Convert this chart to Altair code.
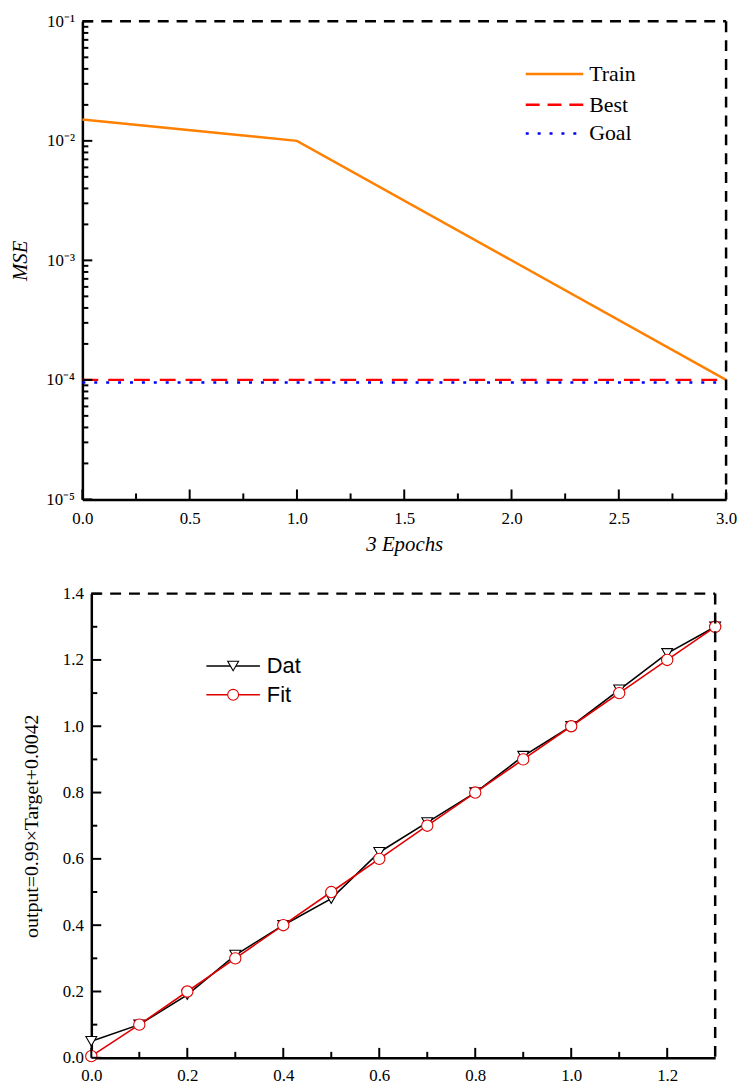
import math
import altair as alt
import pandas as pd

# ---------------- data: top panel (training performance) ----------------
epochs = [0, 1, 3]
train_mse = [0.0151, 0.0100, 0.0001]
ref_epochs = [0, 3]
best_mse = [1.0e-4, 1.0e-4]
goal_mse = [9.5e-5, 9.5e-5]
top_series = ["Train", "Best", "Goal"]
top_y_ticks = [1e-5, 1e-4, 1e-3, 1e-2, 1e-1]
top_y_tick_labels = ["10⁻⁵", "10⁻⁴", "10⁻³", "10⁻²", "10⁻¹"]
top_y_minor = [m * d for d in [1e-5, 1e-4, 1e-3, 1e-2] for m in range(2, 10)]
top_x_ticks = [0.0, 0.5, 1.0, 1.5, 2.0, 2.5, 3.0]
top_x_minor = [0.25, 0.75, 1.25, 1.75, 2.25, 2.75]

# ---------------- data: bottom panel (regression fit) ----------------
target = [0.0, 0.1, 0.2, 0.3, 0.4, 0.5, 0.6, 0.7, 0.8, 0.9, 1.0, 1.1, 1.2, 1.3]
dat = [0.05, 0.10, 0.19, 0.31, 0.40, 0.48, 0.62, 0.71, 0.80, 0.91, 1.00, 1.11, 1.22, 1.30]
fit = [0.005, 0.10, 0.20, 0.30, 0.40, 0.50, 0.60, 0.70, 0.80, 0.90, 1.00, 1.10, 1.20, 1.30]
bottom_series = ["Dat", "Fit"]
bot_x_ticks = [0.0, 0.2, 0.4, 0.6, 0.8, 1.0, 1.2]
bot_x_minor = [0.1, 0.3, 0.5, 0.7, 0.9, 1.1]
bot_y_ticks = [0.0, 0.2, 0.4, 0.6, 0.8, 1.0, 1.2, 1.4]
bot_y_minor = [0.1, 0.3, 0.5, 0.7, 0.9, 1.1, 1.3]

SERIF = "Liberation Serif"
SANS = "Liberation Sans"
TW, TH = 649, 482
BW, BH = 638, 468     # bottom view; its data area starts BX px to the right
BX = 9
MAJOR, MINOR = 10, 6


def axis(fmt=None, values=None, title="", font=SERIF, italic=False, label_expr=None,
         title_pad=8, label_pad=8, title_size=21, offset=0):
    kw = dict(values=values, title=title, ticks=False, tickSize=0, grid=False,
              domainColor="black", domainWidth=2.5, labelColor="black",
              labelFont=SERIF, labelFontSize=17, labelPadding=label_pad,
              titleFont=font, titleFontSize=title_size, titleFontWeight="normal",
              titleColor="black", titlePadding=title_pad, labelFlush=False,
              labelOverlap=False, offset=offset)
    if fmt:
        kw["format"] = fmt
    if italic:
        kw["titleFontStyle"] = "italic"
    if label_expr:
        kw["labelExpr"] = label_expr
    return alt.Axis(**kw)


def tick_layers(xf, yf, xs, ys, x_major, x_minor, y_major, y_minor, x_len, y_len):
    """Inward ticks drawn as rules; x_len / y_len turn a pixel length into an end value."""
    out = []
    for vals, ln in [(x_major, MAJOR), (x_minor, MINOR)]:
        df = pd.DataFrame({xf: vals, yf: [y_len(0)] * len(vals), "hi": [y_len(ln)] * len(vals)})
        out.append(alt.Chart(df).mark_rule(color="black", strokeWidth=2).encode(
            x=alt.X(f"{xf}:Q", scale=xs), y=alt.Y(f"{yf}:Q", scale=ys), y2="hi:Q"))
    for vals, ln in [(y_major, MAJOR), (y_minor, MINOR)]:
        df = pd.DataFrame({yf: vals, xf: [x_len(0)] * len(vals), "hi": [x_len(ln)] * len(vals)})
        out.append(alt.Chart(df).mark_rule(color="black", strokeWidth=2).encode(
            y=alt.Y(f"{yf}:Q", scale=ys), x=alt.X(f"{xf}:Q", scale=xs), x2="hi:Q"))
    return out


def border_layers(x0, W, H):
    one = pd.DataFrame({"k": [0]})
    top = alt.Chart(one).mark_rule(color="black", strokeWidth=2.5, strokeDash=[11, 8]).encode(
        x=alt.value(x0), x2=alt.value(W), y=alt.value(0))
    right = alt.Chart(one).mark_rule(color="black", strokeWidth=2.5, strokeDash=[11, 8]).encode(
        x=alt.value(W), y=alt.value(0), y2=alt.value(H))
    return [top, right]


def extent_layer(left):
    one = pd.DataFrame({"k": [0]})
    return alt.Chart(one).mark_rule(opacity=0, strokeWidth=1).encode(
        x=alt.value(-left), y=alt.value(0), y2=alt.value(1))


# ---------------- top panel ----------------
xs_top = alt.Scale(domain=[0, 3], nice=False, zero=False)
ys_top = alt.Scale(type="log", domain=[1e-5, 1e-1], nice=False)

expr = ""
for t, lab in zip(top_y_ticks[:-1], top_y_tick_labels[:-1]):
    expr += f"datum.value < {t * 3} ? '{lab}' : "
expr += f"'{top_y_tick_labels[-1]}'"

top_xax = axis(fmt=".1f", values=top_x_ticks, title="3 Epochs", italic=True,
               label_pad=11, title_pad=8)
top_yax = axis(values=top_y_ticks, title="MSE", italic=True, label_expr=expr,
               label_pad=8, title_pad=15)

train_df = pd.DataFrame({"epoch": epochs, "mse": train_mse})
best_df = pd.DataFrame({"epoch": ref_epochs, "mse": best_mse})
goal_df = pd.DataFrame({"epoch": ref_epochs, "mse": goal_mse})

train = alt.Chart(train_df).mark_line(color="#FF8000", strokeWidth=2.5).encode(
    x=alt.X("epoch:Q", scale=xs_top, axis=top_xax),
    y=alt.Y("mse:Q", scale=ys_top, axis=top_yax))
best = alt.Chart(best_df).mark_line(color="#FF0000", strokeWidth=2.5, strokeDash=[16, 10]).encode(
    x=alt.X("epoch:Q", scale=xs_top), y=alt.Y("mse:Q", scale=ys_top))
goal = alt.Chart(goal_df).mark_line(color="#0000FF", strokeWidth=2.5, strokeDash=[3, 9]).encode(
    x=alt.X("epoch:Q", scale=xs_top), y=alt.Y("mse:Q", scale=ys_top))

top_colors = ["#FF8000", "#FF0000", "#0000FF"]
top_dashes = [None, [14, 8], [3, 9]]
top_leg_y = [53, 84, 113]
top_legend = []
for name, col, dash, yy in zip(top_series, top_colors, top_dashes, top_leg_y):
    d = pd.DataFrame({"label": [name]})
    rk = dict(color=col, strokeWidth=2.5)
    if dash:
        rk["strokeDash"] = dash
    top_legend.append(alt.Chart(d).mark_rule(**rk).encode(
        x=alt.value(447), x2=alt.value(505), y=alt.value(yy)))
    top_legend.append(alt.Chart(d).mark_text(align="left", baseline="middle", font=SERIF,
                                             fontSize=22, color="black").encode(
        x=alt.value(511), y=alt.value(yy), text="label:N"))

top_x_len = lambda px: 3.0 * px / TW
top_y_len = lambda px: 10 ** (-5 + 4.0 * px / TH)

top_chart = alt.layer(
    train, best, goal,
    *tick_layers("epoch", "mse", xs_top, ys_top, top_x_ticks, top_x_minor,
                 top_y_ticks, top_y_minor, top_x_len, top_y_len),
    *border_layers(0, TW, TH), *top_legend, extent_layer(75)
).properties(width=TW, height=TH)

# ---------------- bottom panel ----------------
xs_bot = alt.Scale(domain=[0, 1.3], nice=False, zero=False, range=[BX, BW])
ys_bot = alt.Scale(domain=[0, 1.4], nice=False, zero=False)
bot_xax = axis(fmt=".1f", values=bot_x_ticks, title="", label_pad=10)
bot_yax = axis(fmt=".1f", values=bot_y_ticks, title="output=0.99×Target+0.0042",
               label_pad=8, title_pad=21, title_size=20, offset=-BX)

dat_df = pd.DataFrame({"target": target, "out": dat})
fit_df = pd.DataFrame({"target": target, "out": fit})

X = lambda: alt.X("target:Q", scale=xs_bot, axis=bot_xax)
Y = lambda: alt.Y("out:Q", scale=ys_bot, axis=bot_yax)

dat_line = alt.Chart(dat_df).mark_line(color="black", strokeWidth=1.6).encode(x=X(), y=Y())
dat_pts = alt.Chart(dat_df).mark_point(shape="triangle-down", filled=True, fill="white",
                                       stroke="black", strokeWidth=1.1, size=120, opacity=1).encode(x=X(), y=Y())
fit_line = alt.Chart(fit_df).mark_line(color="#E00000", strokeWidth=1.6).encode(x=X(), y=Y())
fit_pts = alt.Chart(fit_df).mark_point(shape="circle", filled=True, fill="white",
                                       stroke="#E00000", strokeWidth=1.1, size=130, opacity=1).encode(x=X(), y=Y())

bot_colors = ["black", "#E00000"]
bot_shapes = ["triangle-down", "circle"]
bot_leg_y = [73, 102]
bot_legend = []
for name, col, shp, yy in zip(bottom_series, bot_colors, bot_shapes, bot_leg_y):
    d = pd.DataFrame({"label": [name]})
    bot_legend.append(alt.Chart(d).mark_rule(color=col, strokeWidth=1.6).encode(
        x=alt.value(BX + 116), x2=alt.value(BX + 170), y=alt.value(yy)))
    bot_legend.append(alt.Chart(d).mark_point(shape=shp, filled=True, fill="white", stroke=col,
                                              strokeWidth=1.1, size=120, opacity=1).encode(
        x=alt.value(BX + 143), y=alt.value(yy)))
    bot_legend.append(alt.Chart(d).mark_text(align="left", baseline="middle", font=SANS,
                                             fontSize=22, color="black").encode(
        x=alt.value(BX + 177), y=alt.value(yy), text="label:N"))

bot_x_len = lambda px: 1.3 * px / (BW - BX)
bot_y_len = lambda px: 1.4 * px / BH

bottom_chart = alt.layer(
    dat_line, dat_pts, fit_line, fit_pts,
    *tick_layers("target", "out", xs_bot, ys_bot, bot_x_ticks, bot_x_minor,
                 bot_y_ticks, bot_y_minor, bot_x_len, bot_y_len),
    *border_layers(BX, BW, BH), *bot_legend
).properties(width=BW, height=BH)

chart = alt.vconcat(top_chart, bottom_chart, spacing=30).properties(
    padding={"left": 0, "top": 0, "right": 0, "bottom": 0},
    background="white"
).configure_view(stroke=None)

chart.save("out.html", embed_options={"renderer": "svg", "actions": False})
